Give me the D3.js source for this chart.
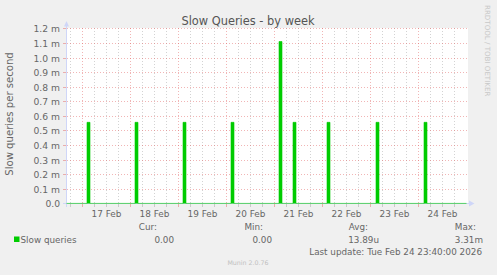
<!DOCTYPE html>
<html>
<head>
<meta charset="utf-8">
<script src="https://cdn.jsdelivr.net/npm/d3@7"></script>
<style>
html,body{margin:0;padding:0;background:#f0f0f0;}
svg{display:block;font-family:"DejaVu Sans",sans-serif;}
</style>
</head>
<body>
<svg id="chart" width="497" height="275"></svg>
<script>
// ---- data ----
const title = "Slow Queries - by week";
const yLabel = "Slow queries per second";
const seriesName = "Slow queries";
const rangeStart = "2026-02-16T16:00:00";
const rangeEnd = "2026-02-25T00:00:00";
const spikeStarts = [
  "2026-02-17T02:15:00", "2026-02-18T02:15:00", "2026-02-19T02:15:00",
  "2026-02-20T02:15:00", "2026-02-21T02:15:00", "2026-02-21T09:15:00",
  "2026-02-22T02:15:00", "2026-02-23T02:45:00", "2026-02-24T02:45:00"
];
const spikeValues = [0.000556, 0.000556, 0.000556, 0.000556, 0.00111, 0.000556, 0.000556, 0.000556, 0.000556];
const spikeMinutes = 90;
const yTickValues = [0, 0.0001, 0.0002, 0.0003, 0.0004, 0.0005, 0.0006, 0.0007, 0.0008, 0.0009, 0.001, 0.0011, 0.0012];
const yTickLabels = ["0.0", "0.1 m", "0.2 m", "0.3 m", "0.4 m", "0.5 m", "0.6 m", "0.7 m", "0.8 m", "0.9 m", "1.0 m", "1.1 m", "1.2 m"];
const xTickLabels = ["17 Feb", "18 Feb", "19 Feb", "20 Feb", "21 Feb", "22 Feb", "23 Feb", "24 Feb"];
const legendHeaders = ["Cur:", "Min:", "Avg:", "Max:"];
const legendValues = ["0.00", "0.00", "13.89u", "3.31m"];
const lastUpdate = "Last update: Tue Feb 24 23:40:00 2026";
const version = "Munin 2.0.76";
const watermark = "RRDTOOL / TOBI OETIKER";

// ---- layout ----
const FONT = "#666666", AXIS = "#CFD6F8", GREEN = "#00CC00";
const MGRID = "rgba(225,90,90,0.45)", GRID = "rgba(140,140,140,0.38)";
const plot = {x0: 67, x1: 468, y0: 28, y1: 203};

const svg = d3.select("#chart");
const parse = s => new Date(s);
const x = d3.scaleTime().domain([parse(rangeStart), parse(rangeEnd)]).range([66.5, 466.5]);
const y = d3.scaleLinear().domain([0, 0.0012]).range([203.4, 28.4]);
const cy = v => Math.round(y(v)) + 0.5;

svg.append("rect").attr("x", 0).attr("y", 0).attr("width", 497).attr("height", 275).attr("fill", "#f0f0f0");
svg.append("rect").attr("x", plot.x0).attr("y", plot.y0).attr("width", plot.x1 - plot.x0).attr("height", plot.y1 - plot.y0 + 1).attr("fill", "#ffffff");

// vertical grid
const hours = d3.timeHour.every(6).range(parse(rangeStart), parse(rangeEnd));
hours.forEach(h => {
  const major = h.getHours() === 0;
  const xx = x(h);
  if (xx < plot.x0 + 1) return;
  svg.append("line").attr("x1", xx).attr("x2", xx).attr("y1", plot.y0).attr("y2", plot.y1)
    .attr("stroke", major ? MGRID : GRID).attr("stroke-width", 1).attr("stroke-dasharray", "1,2");
  svg.append("line").attr("x1", xx).attr("x2", xx).attr("y1", 204).attr("y2", 207)
    .attr("stroke", major ? MGRID : GRID).attr("stroke-width", 1);
});
// horizontal grid
yTickValues.forEach((v, i) => {
  const yy = cy(v);
  if (v > 0) {
    svg.append("line").attr("x1", plot.x0).attr("x2", plot.x1).attr("y1", yy).attr("y2", yy)
      .attr("stroke", MGRID).attr("stroke-width", 1).attr("stroke-dasharray", "1,2");
  }
  svg.append("line").attr("x1", 63).attr("x2", 66).attr("y1", yy).attr("y2", yy)
    .attr("stroke", MGRID).attr("stroke-width", 1);
  svg.append("text").attr("x", 60).attr("y", yy + 3.3).attr("text-anchor", "end")
    .attr("font-size", "9.2px").attr("fill", FONT).text(yTickLabels[i]);
});

// x tick labels at noon
const days = d3.timeDay.range(parse("2026-02-17T00:00:00"), parse("2026-02-25T00:00:00"));
days.forEach((d, i) => {
  const noon = d3.timeHour.offset(d, 12);
  svg.append("text").attr("x", x(noon)).attr("y", 217).attr("text-anchor", "middle")
    .attr("font-size", "8.9px").attr("fill", FONT).text(xTickLabels[i]);
});

// axes
svg.append("line").attr("x1", 63).attr("x2", 470).attr("y1", 203.5).attr("y2", 203.5).attr("stroke", AXIS);
svg.append("line").attr("x1", 66.5).attr("x2", 66.5).attr("y1", 207).attr("y2", 25).attr("stroke", AXIS);
svg.append("path").attr("d", "M64,26.5L69,26.5L66.5,21Z").attr("fill", AXIS);
svg.append("path").attr("d", "M469,200.5L469,206.5L474.5,203.5Z").attr("fill", AXIS);

// series
const pts = [{t: parse(rangeStart), v: 0}];
spikeStarts.forEach((s, i) => {
  const t0 = parse(s), t1 = d3.timeMinute.offset(t0, spikeMinutes);
  pts.push({t: t0, v: 0}, {t: t0, v: spikeValues[i]}, {t: t1, v: spikeValues[i]}, {t: t1, v: 0});
});
pts.push({t: parse(rangeEnd), v: 0});
svg.append("path").datum(pts)
  .attr("d", d3.area().x(d => x(d.t)).y0(y(0)).y1(d => y(d.v)))
  .attr("fill", GREEN);
svg.append("path").datum(pts)
  .attr("d", d3.line().x(d => x(d.t)).y(d => y(d.v)))
  .attr("fill", "none").attr("stroke", GREEN).attr("stroke-width", 1).attr("stroke-opacity", 0.6);

// title & labels
svg.append("text").attr("x", 248).attr("y", 24.5).attr("text-anchor", "middle")
  .attr("font-size", "11.4px").attr("fill", "#555").text(title);
svg.append("text").attr("transform", "translate(13,114) rotate(-90)").attr("text-anchor", "middle")
  .attr("font-size", "10.1px").attr("fill", FONT).text(yLabel);
svg.append("text").attr("transform", "translate(484.5,5) rotate(90)").attr("text-anchor", "start")
  .attr("font-size", "7.1px").attr("fill", "#c8c8c8").text(watermark);

// legend
const headerX = [157, 263, 368, 476];
const valueX = [174, 272, 379, 483];
legendHeaders.forEach((h, i) => {
  svg.append("text").attr("x", headerX[i]).attr("y", 230).attr("text-anchor", "end")
    .attr("font-size", "8.8px").attr("fill", FONT).text(h);
  svg.append("text").attr("x", valueX[i]).attr("y", 242.5).attr("text-anchor", "end")
    .attr("font-size", "8.8px").attr("fill", FONT).text(legendValues[i]);
});
svg.append("rect").attr("x", 14).attr("y", 236.5).attr("width", 5.5).attr("height", 5.5).attr("fill", GREEN);
svg.append("text").attr("x", 20.5).attr("y", 242.5).attr("font-size", "8.8px").attr("fill", FONT).text(seriesName);
svg.append("text").attr("x", 482).attr("y", 255).attr("text-anchor", "end")
  .attr("font-size", "8.8px").attr("fill", FONT).text(lastUpdate);
svg.append("text").attr("x", 248).attr("y", 265).attr("text-anchor", "middle")
  .attr("font-size", "6.3px").attr("fill", "#c0c0c0").text(version);
</script>
</body>
</html>
